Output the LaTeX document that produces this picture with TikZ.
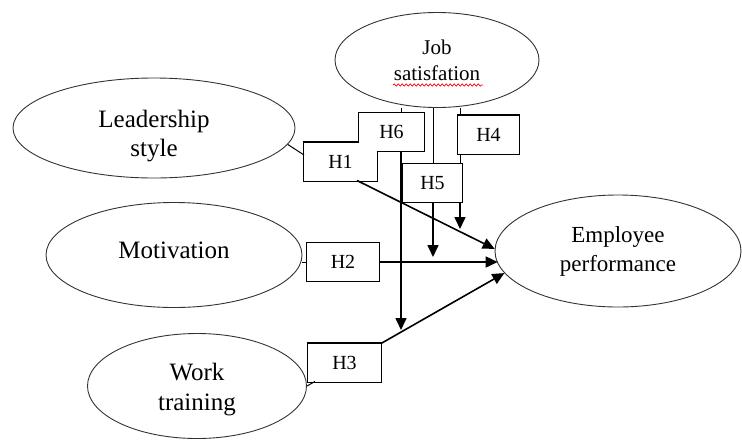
\documentclass[tikz,border=0pt]{standalone}
\usepackage{fontspec}
\setmainfont{Liberation Serif}
\usetikzlibrary{shapes.geometric,arrows.meta,backgrounds,decorations.pathmorphing}

\tikzset{
  var/.style={ellipse,draw=black!80,line width=0.9pt,inner sep=0pt,align=center},
  hyp/.style={rectangle,inner sep=0pt,outer sep=0pt,minimum height=38pt,font=\fontsize{20}{24}\selectfont},
  link/.style={line width=1pt},
  arr/.style={line width=1.6pt,-{Triangle[length=12pt,width=11pt]}}
}
\newcommand{\twolines}[3]{\raisebox{#1}[\height][\depth]{\begin{tabular}{@{}c@{}}#2\\#3\end{tabular}}}

\begin{document}
\begin{tikzpicture}[x=1pt,y=-1pt]
\useasboundingbox (0,0) rectangle (742,440);

% latent variables
\node[var,minimum width=282pt,minimum height=100pt,font=\fontsize{25}{29}\selectfont] (lead) at (154,128) {\twolines{-8pt}{Leadership}{style}};
\node[var,minimum width=256pt,minimum height=105pt,font=\fontsize{25}{29}\selectfont] (mot) at (174,255) {\raisebox{9pt}{Motivation}};
\node[var,minimum width=219pt,minimum height=105pt,font=\fontsize{25}{30}\selectfont] (work) at (197,386) {\twolines{-3pt}{Work}{training}};
\node[var,minimum width=204pt,minimum height=95pt,font=\fontsize{21}{26}\selectfont] (js) at (437,60) {Job\\satisfation};
\node[var,minimum width=246pt,minimum height=112pt,font=\fontsize{23}{29}\selectfont] (emp) at (618,251) {Employee\\performance};
\draw[red,line width=0.7pt,decorate,decoration={snake,amplitude=1.1pt,segment length=4pt}] (393,85) -- (483,85);

% hypotheses
\node[hyp,minimum width=65pt] (h6) at (391.5,132) {H6};
\node[hyp,minimum width=73pt] (h1) at (340.5,161.5) {H1};
\node[hyp,minimum width=61pt] (h4) at (488.5,134.5) {H4};
\node[hyp,minimum width=59pt] (h5) at (432.5,183) {H5};
\node[hyp,minimum width=72pt] (h2) at (343,262) {H2};
\node[hyp,minimum width=73pt] (h3) at (344.5,362.5) {H3};
\begin{scope}[on background layer]
\foreach \b in {h1,h2,h3,h4,h5,h6}
  \draw[line width=2.8pt] (\b.south west) rectangle (\b.north east);
\foreach \b in {h1,h2,h3,h4,h5,h6}
  \fill[white] (\b.south west) rectangle (\b.north east);
\end{scope}

% direct paths
\draw[link] (lead.-7) -- ([yshift=6.5pt]h1.west);
\draw[link] (mot.east |- h2.west) -- (h2.west);
\draw[link] (work.east) -- ([xshift=7pt]h3.south west);
\draw[arr] ([xshift=-20pt]h1.south east) -- (emp.179);
\draw[arr] (h2.east) -- (h2.east -| emp.186);
\draw[arr] (h3.north east) -- (emp.191);

% moderating paths
\coordinate (t6) at (401,330);
\coordinate (t5) at (433,257);
\coordinate (t4) at (460,229);
\draw[link] (js.south -| t6) -- (h6.north -| t6);
\draw[arr] (h6.south -| t6) -- (t6);
\draw[link] (js.south -| t5) -- (h5.north -| t5);
\draw[arr] (h5.south -| t5) -- (t5);
\draw[link] (js.south -| t4) -- (h4.north -| t4);
\draw[link] (h4.south -| t4) -- (h5.north -| t4);
\draw[arr] (h5.south -| t4) -- (t4);
\end{tikzpicture}
\end{document}
